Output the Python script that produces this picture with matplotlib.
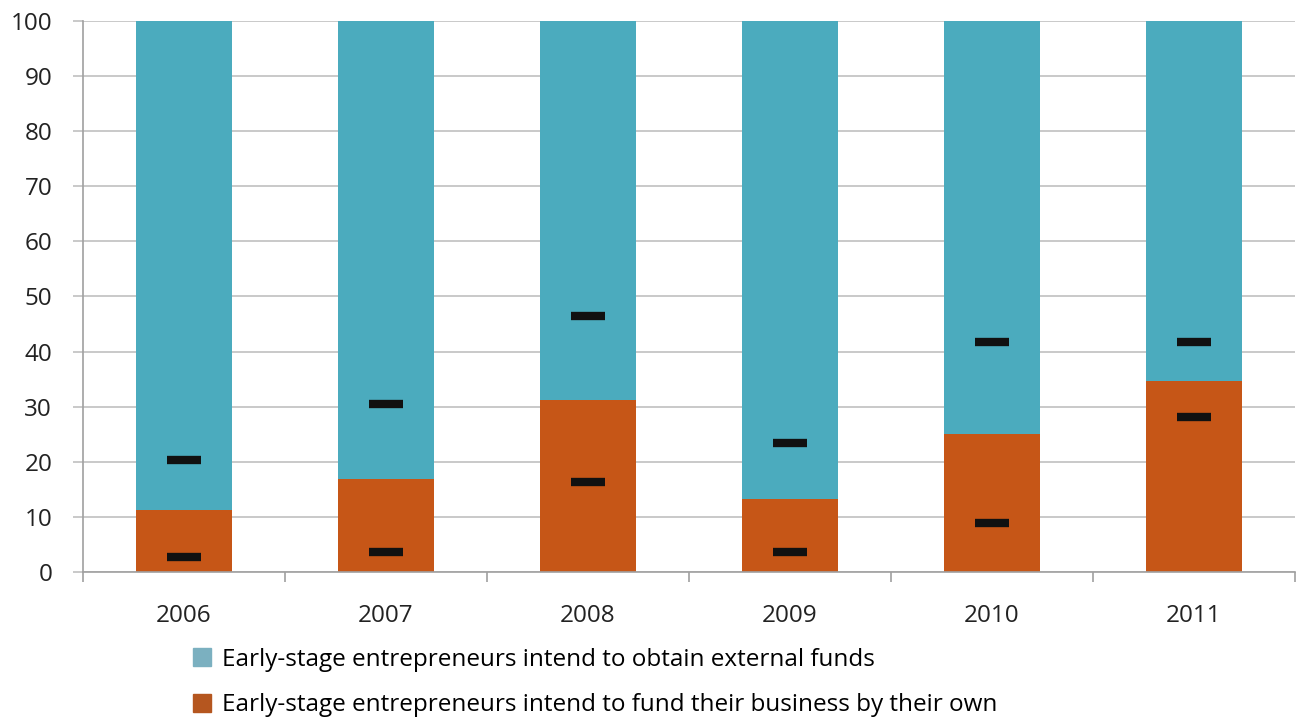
import numpy as np
import matplotlib.pyplot as plt
from matplotlib.patches import Patch

years = ['2006', '2007', '2008', '2009', '2010', '2011']
own_funds = [11.3, 16.9, 31.2, 13.2, 25.0, 34.7]
external_funds = [100 - v for v in own_funds]
# black dash markers
upper_marks = [20.3, 30.5, 46.5, 23.4, 41.7, 41.7]
lower_marks = [2.7, 3.6, 16.3, 3.6, 8.9, 28.1]

teal = '#4babbe'
orange = '#c65617'

plt.rcParams['font.family'] = ['Open Sans', 'DejaVu Sans']

fig = plt.figure(figsize=(13.03, 7.19), dpi=100)
ax = fig.add_axes([0.0637, 0.2045, 0.930, 0.7663])

x = np.arange(len(years))
ax.bar(x, own_funds, width=0.475, color=orange, zorder=2)
ax.bar(x, external_funds, width=0.475, bottom=own_funds, color=teal, zorder=2)
ax.plot(x, upper_marks, ls='none', marker='_', ms=24, mew=6, color='#111111', zorder=3)
ax.plot(x, lower_marks, ls='none', marker='_', ms=24, mew=6, color='#111111', zorder=3)

ax.set_xlim(-0.5, len(years) - 0.5)
ax.set_ylim(0, 100)
ax.set_yticks(range(0, 101, 10))
ax.yaxis.grid(True, color='#c0c0c0', lw=1.2, zorder=0)
ax.tick_params(axis='y', length=7.2, width=1.2, color='#c0c0c0', labelsize=17.5, pad=15,
               labelcolor='#222222')

ax.set_xticks(x)
ax.set_xticklabels(years)
ax.set_xticks(np.arange(-0.5, len(years)), minor=True)
ax.tick_params(axis='x', which='major', length=0, labelsize=17.5, pad=23, labelcolor='#222222')
ax.tick_params(axis='x', which='minor', length=7, width=1.2, color='#a0a0a0')

for s in ['top', 'right']:
    ax.spines[s].set_visible(False)
ax.spines['left'].set_color('#a0a0a0')
ax.spines['bottom'].set_color('#a0a0a0')
ax.spines['left'].set_linewidth(1.2)
ax.spines['bottom'].set_linewidth(1.2)

handles = [Patch(color='#7bb0c0', label='Early-stage entrepreneurs intend to obtain external funds'),
           Patch(color='#b5561f', label='Early-stage entrepreneurs intend to fund their business by their own')]
fig.legend(handles=handles, loc='upper left', bbox_to_anchor=(0.148, 0.099), frameon=False,
           fontsize=17.5, handlelength=0.75, handleheight=0.75, handletextpad=0.45, labelspacing=0.88,
           borderaxespad=0, borderpad=0)

fig.savefig('out.png', dpi=100)
